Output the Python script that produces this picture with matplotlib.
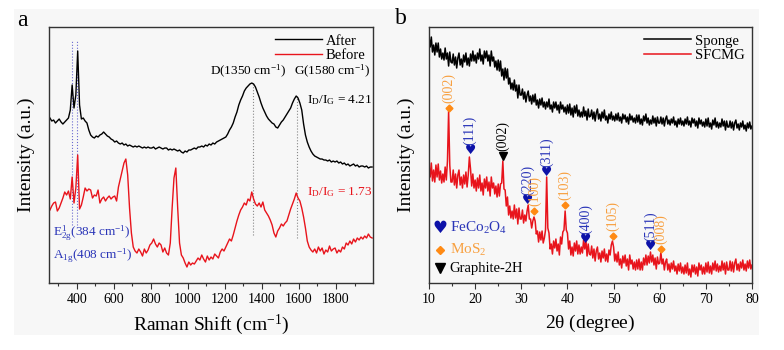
import numpy as np
import matplotlib
matplotlib.use('Agg')
import matplotlib.pyplot as plt
from matplotlib.patches import Rectangle

plt.rcParams['font.family'] = ['Liberation Serif', 'DejaVu Sans']
plt.rcParams['mathtext.fontset'] = 'custom'
plt.rcParams['mathtext.rm'] = 'Liberation Serif'
plt.rcParams['mathtext.it'] = 'Liberation Serif:italic'
plt.rcParams['mathtext.default'] = 'regular'

### Raman data (panel a) ###
raman_x = np.arange(255, 2000, 10)  # cm-1
after = [165, 162, 163, 160, 162, 164, 161, 159, 161, 163,
         165, 173, 198, 175, 188, 232, 178, 164, 165, 162,
         160, 153, 148, 146, 145, 147, 146, 148, 149, 151,
         149, 147, 146, 144, 143, 141, 142, 140, 139, 140,
         138, 139, 137, 138, 137, 136, 137, 136, 137, 136,
         135, 136, 135, 136, 135, 135, 136, 134, 135, 136,
         135, 134, 135, 135, 133, 134, 133, 134, 133, 132,
         133, 131, 130, 132, 131, 133, 133, 134, 135, 134,
         136, 136, 137, 136, 138, 137, 139, 138, 140, 139,
         141, 142, 143, 144, 145, 146, 149, 153, 156, 160,
         166, 171, 178, 183, 187, 192, 195, 197, 199, 200,
         199, 196, 191, 186, 180, 175, 171, 167, 164, 162,
         160, 159, 156, 155, 158, 161, 163, 166, 169, 172,
         175, 180, 184, 187, 185, 180, 173, 159, 148, 141,
         136, 132, 129, 127, 126, 125, 124, 124, 123, 123,
         122, 123, 121, 122, 121, 122, 120, 121, 119, 120,
         118, 119, 117, 118, 119, 117, 118, 116, 117, 117,
         116, 117, 115, 116, 116]
before = [73, 77, 80, 81, 72, 75, 80, 85, 91, 88,
          92, 84, 106, 80, 95, 128, 74, 78, 86, 95,
          92, 94, 93, 85, 88, 87, 93, 80, 84, 86,
          82, 85, 87, 84, 86, 87, 82, 96, 104, 112,
          120, 124, 108, 75, 50, 36, 32, 30, 34, 31,
          27, 34, 30, 33, 38, 40, 44, 39, 36, 40,
          38, 31, 35, 30, 28, 40, 75, 105, 115, 75,
          40, 28, 25, 20, 16, 21, 18, 20, 19, 22,
          25, 23, 28, 24, 21, 27, 23, 26, 24, 29,
          27, 25, 31, 34, 32, 36, 40, 44, 42, 48,
          55, 62, 68, 73, 76, 80, 78, 84, 82, 91,
          84, 79, 77, 80, 76, 81, 73, 70, 67, 63,
          58, 50, 46, 52, 55, 59, 57, 60, 62, 68,
          74, 79, 84, 90, 85, 82, 75, 66, 55, 42,
          36, 33, 31, 34, 30, 36, 32, 35, 29, 33,
          31, 37, 32, 34, 35, 30, 33, 31, 36, 34,
          40, 38, 42, 39, 44, 41, 45, 43, 46, 44,
          47, 45, 49, 46, 45]

mos2_lines = [375, 402]      # blue dotted guides
carbon_lines = [1350, 1587]  # D and G guides

### XRD data (panel b) ###
two_theta = np.arange(10, 80.001, 0.25)
sponge = [246, 236, 246, 231, 238, 228, 240, 231, 240, 226, 234, 224, 230, 223, 235, 224, 230, 217, 231, 221,
          220, 229, 218, 226, 215, 225, 230, 218, 224, 216, 228, 221, 230, 218, 225, 217, 229, 222, 232, 222,
          228, 220, 230, 224, 234, 222, 228, 219, 232, 225, 232, 222, 228, 217, 232, 222, 226, 216, 222, 213,
          223, 212, 222, 207, 214, 203, 215, 205, 214, 199, 205, 194, 200, 193, 203, 192, 198, 185, 198, 188,
          188, 194, 184, 191, 181, 188, 192, 182, 187, 179, 188, 181, 189, 178, 183, 175, 184, 178, 185, 176,
          181, 174, 181, 176, 184, 174, 178, 171, 181, 175, 181, 173, 178, 170, 181, 174, 178, 171, 176, 169,
          178, 170, 179, 168, 175, 166, 177, 170, 178, 167, 173, 166, 171, 166, 176, 167, 172, 163, 174, 166,
          167, 173, 164, 171, 162, 170, 174, 164, 169, 162, 171, 165, 173, 163, 167, 160, 169, 164, 171, 163,
          167, 162, 169, 163, 170, 162, 166, 160, 169, 164, 168, 161, 166, 159, 169, 163, 167, 161, 165, 160,
          168, 161, 168, 159, 164, 158, 167, 162, 169, 160, 165, 158, 163, 159, 167, 160, 165, 157, 166, 160,
          160, 166, 159, 165, 157, 164, 167, 159, 163, 158, 164, 160, 166, 158, 162, 156, 164, 159, 165, 158,
          162, 157, 164, 159, 166, 158, 162, 156, 165, 160, 164, 157, 162, 155, 165, 159, 163, 157, 161, 156,
          164, 157, 165, 156, 160, 154, 163, 158, 165, 156, 161, 155, 160, 156, 164, 157, 162, 153, 162, 156,
          156, 162, 155, 161, 153, 160, 163, 155, 159, 153, 160, 156, 162, 154, 158, 152, 160, 155, 161, 154,
          157]
sfcmg = [117, 106, 120, 102, 113, 101, 118, 106, 119, 103, 112, 100, 109, 101, 116, 103, 122, 172, 118, 101,
         101, 113, 98, 109, 95, 108, 113, 98, 106, 95, 108, 99, 111, 96, 108, 126, 114, 97, 109, 95,
         103, 92, 105, 95, 108, 92, 100, 88, 104, 95, 106, 92, 101, 87, 106, 95, 100, 89, 97, 86,
         99, 87, 99, 100, 122, 94, 93, 77, 86, 68, 77, 65, 72, 64, 78, 65, 74, 59, 75, 64,
         64, 73, 60, 68, 62, 72, 78, 64, 64, 55, 62, 66, 62, 49, 52, 41, 51, 43, 52, 40,
         45, 53, 106, 55, 50, 34, 39, 29, 42, 35, 44, 32, 39, 28, 46, 39, 51, 53, 72, 53,
         50, 34, 42, 28, 36, 27, 40, 32, 42, 29, 38, 29, 36, 30, 43, 34, 43, 27, 39, 29,
         28, 37, 25, 34, 22, 32, 36, 24, 30, 21, 32, 25, 34, 22, 29, 21, 33, 28, 38, 42,
         36, 22, 29, 21, 31, 18, 24, 15, 27, 20, 28, 17, 24, 13, 28, 19, 23, 14, 21, 13,
         23, 14, 24, 13, 21, 13, 25, 18, 28, 18, 27, 20, 31, 21, 28, 18, 25, 14, 26, 19,
         20, 31, 19, 24, 13, 21, 24, 13, 19, 11, 20, 14, 22, 12, 17, 9, 19, 12, 20, 10,
         16, 9, 18, 10, 20, 8, 14, 6, 18, 11, 18, 9, 16, 7, 20, 13, 18, 9, 16, 9,
         20, 11, 21, 10, 17, 9, 20, 13, 22, 12, 19, 11, 17, 12, 22, 13, 20, 9, 21, 13,
         13, 22, 12, 21, 11, 20, 24, 13, 19, 12, 21, 15, 23, 13, 19, 12, 22, 15, 23, 14,
         18]

peak_pos = [14.3, 18.9, 26.0, 31.4, 32.8, 35.5, 39.5, 44.0, 49.8, 58.0, 60.2]
peak_top = [175, 133, 127, 83, 72, 111, 78, 44, 47, 37, 34]
peak_hkl = ['(002)', '(111)', '(002)', '(220)', '(100)', '(311)', '(103)', '(400)', '(105)', '(511)', '(008)']
peak_phase = ['M', 'F', 'G', 'F', 'M', 'F', 'M', 'F', 'M', 'F', 'M']

BLUE = '#0d12a8'
BLUE_TXT = '#2a35b8'
ORANGE = '#ff8a14'
ORANGE_TXT = '#f7a040'
RED = '#e8141c'
BG = '#f7f7f7'

fig = plt.figure(figsize=(7.84, 3.5), dpi=100, facecolor='white')
fig.patches.append(Rectangle((0.018, 0.043), 0.950, 0.931, transform=fig.transFigure,
                             facecolor=BG, edgecolor='none', zorder=-10))
ax1 = fig.add_axes([0.0625, 0.1914, 0.4133, 0.7314])
ax2 = fig.add_axes([0.5472, 0.1914, 0.4120, 0.7314])

for ax in (ax1, ax2):
    ax.set_facecolor(BG)
    for s in ax.spines.values():
        s.set_color('#333333')
        s.set_linewidth(1.0)
    ax.set_yticks([])
    ax.set_ylim(0, 256)
    ax.tick_params(axis='x', which='major', direction='out', length=4, width=0.8,
                   labelsize=10, pad=3, color='#333333')
    ax.tick_params(axis='x', which='minor', direction='out', length=2.5, width=0.8, color='#333333')
    ax.set_ylabel('Intensity (a.u.)', fontsize=14, labelpad=10)

# --- panel a ---
for x in mos2_lines:
    ax1.plot([x, x], [58, 243], ls=':', color='#6a6ad0', lw=0.8)
ax1.plot([carbon_lines[0]] * 2, [48, 200], ls=':', color='#888888', lw=0.8)
ax1.plot([carbon_lines[1]] * 2, [45, 187], ls=':', color='#888888', lw=0.8)
ax1.plot(raman_x, after, color='black', lw=1.0, label='After')
ax1.plot(raman_x, before, color=RED, lw=1.0, label='Before')
ax1.set_xlim(250, 2000)
ax1.set_xticks(range(400, 1801, 200))
ax1.set_xticks(range(300, 2000, 200), minor=True)
ax1.set_xlabel('Raman Shift (cm$^{-1}$)', fontsize=14, labelpad=5)
ax1.legend(loc='upper right', frameon=False, fontsize=10.5, handlelength=3.2,
           handletextpad=0.3, labelspacing=0.1, borderaxespad=0.1)
ax1.text(1325, 212, 'D(1350 cm$^{-1}$)', fontsize=9.5, ha='center', va='center')
ax1.text(1777, 212, 'G(1580 cm$^{-1}$)', fontsize=9.5, ha='center', va='center')
ax1.text(1641, 183, '$I_D/I_G$ = 4.21', fontsize=9.5, ha='left', va='center')
ax1.text(1641, 91, '$I_D/I_G$ = 1.73', fontsize=9.5, ha='left', va='center', color=RED)
ax1.text(273, 50, '$E^{1}_{2g}$(384 cm$^{-1}$)', fontsize=9.5, ha='left', va='center', color=BLUE_TXT)
ax1.text(273, 27, '$A_{1g}$(408 cm$^{-1}$)', fontsize=9.5, ha='left', va='center', color=BLUE_TXT)

# --- panel b ---
ax2.plot(two_theta, sponge, color='black', lw=1.1, label='Sponge')
ax2.plot(two_theta, sfcmg, color=RED, lw=1.1, label='SFCMG')
ax2.set_xlim(10, 80)
ax2.set_xticks(range(10, 81, 10))
ax2.set_xticks(range(15, 80, 10), minor=True)
ax2.set_xlabel(r'2$\theta$ (degree)', fontsize=14, labelpad=5)
ax2.legend(loc='upper right', frameon=False, fontsize=10.5, handlelength=3.2,
           handletextpad=0.3, labelspacing=0.1, borderaxespad=0.1)

for x, y, hkl, ph in zip(peak_pos, peak_top, peak_hkl, peak_phase):
    if ph == 'F':
        ax2.text(x, y, '\u2665', family='DejaVu Sans', fontsize=9, color=BLUE,
                 ha='center', va='center')
        tc = BLUE_TXT
    elif ph == 'M':
        ax2.plot(x, y, marker='D', ms=3.5, color=ORANGE, mec=ORANGE)
        tc = ORANGE_TXT
    else:
        ax2.plot(x, y, marker='v', ms=5.5, color='black')
        tc = 'black'
    ax2.annotate(hkl, (x, y), xytext=(0, 3.5), textcoords='offset points', rotation=90,
                 ha='center', va='bottom', fontsize=10, color=tc)

# phase key
ax2.text(12.4, 55, '\u2665', family='DejaVu Sans', fontsize=12, color=BLUE, ha='center', va='center')
ax2.text(14.5, 55, 'FeCo$_2$O$_4$', fontsize=11, color=BLUE_TXT, ha='left', va='center')
ax2.plot(12.4, 33, marker='D', ms=4.5, color=ORANGE, mec=ORANGE)
ax2.text(14.5, 33, 'MoS$_2$', fontsize=11, color=ORANGE_TXT, ha='left', va='center')
ax2.plot(12.4, 15, marker='v', ms=6.5, color='black')
ax2.text(14.5, 15, 'Graphite-2H', fontsize=10.5, color='black', ha='left', va='center')

fig.text(22 / 784, 1 - 21 / 350, 'a', fontsize=17, ha='center', va='center')
fig.text(401 / 784, 1 - 19 / 350, 'b', fontsize=17, ha='center', va='center')

fig.savefig('out.png', dpi=100, facecolor='white')
